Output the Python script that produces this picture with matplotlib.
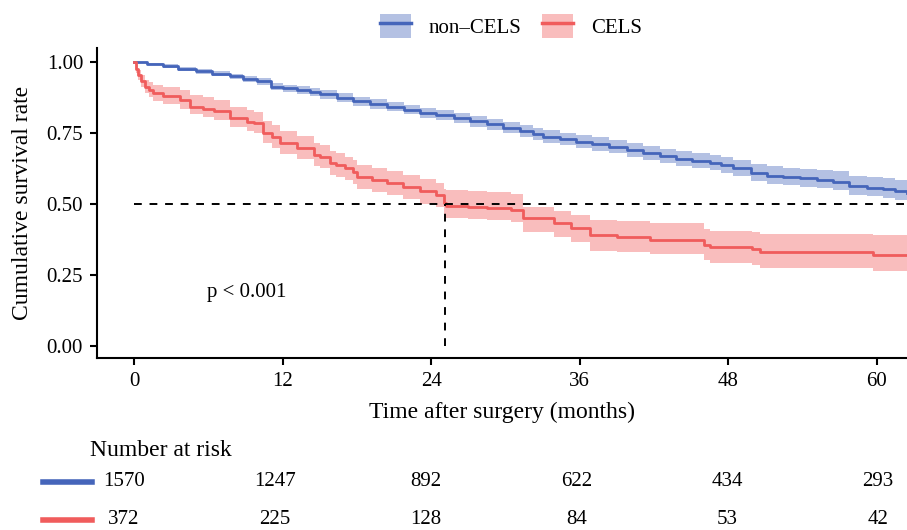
import matplotlib
matplotlib.use("Agg")
import matplotlib.pyplot as plt
from matplotlib.lines import Line2D
from matplotlib.patches import Patch
from matplotlib.legend_handler import HandlerTuple
from matplotlib.transforms import blended_transform_factory

plt.rcParams['font.family'] = ['Liberation Serif', 'DejaVu Serif']

# ---------------- data ----------------
groups = ["non\u2013CELS", "CELS"]

blue_t = [0, 1.0, 2.3, 3.5, 5.0, 6.3, 7.7, 8.8, 9.9, 11.0, 12.0, 13.1, 14.2, 15.0, 16.4,
          17.7, 19.0, 20.4, 21.8, 23.1, 24.4, 25.8, 27.1, 28.5, 29.8, 31.2, 32.2, 33.0,
          34.4, 35.7, 37.0, 38.4, 39.8, 41.1, 42.5, 43.8, 45.1, 46.5, 47.4, 48.4, 49.8,
          51.1, 52.4, 53.8, 55.2, 56.5, 57.8, 59.2, 60.5, 61.5, 62.45]
blue_s = [1.000, 0.992, 0.985, 0.976, 0.967, 0.958, 0.949, 0.941, 0.932, 0.913, 0.907,
          0.901, 0.895, 0.886, 0.874, 0.861, 0.852, 0.843, 0.832, 0.820, 0.812, 0.803,
          0.791, 0.780, 0.769, 0.757, 0.746, 0.737, 0.728, 0.719, 0.711, 0.702, 0.690,
          0.678, 0.669, 0.660, 0.653, 0.646, 0.636, 0.626, 0.610, 0.600, 0.595, 0.590,
          0.585, 0.579, 0.563, 0.558, 0.552, 0.546, 0.540]
blue_lo = [1.000, 0.988, 0.979, 0.969, 0.959, 0.949, 0.939, 0.930, 0.920, 0.900, 0.894,
           0.887, 0.881, 0.871, 0.859, 0.845, 0.836, 0.826, 0.815, 0.802, 0.794, 0.784,
           0.772, 0.760, 0.749, 0.736, 0.725, 0.716, 0.706, 0.697, 0.688, 0.679, 0.666,
           0.654, 0.644, 0.635, 0.627, 0.620, 0.609, 0.599, 0.582, 0.572, 0.566, 0.561,
           0.555, 0.549, 0.532, 0.527, 0.521, 0.515, 0.509]
blue_hi = [1.000, 0.996, 0.991, 0.983, 0.975, 0.967, 0.959, 0.952, 0.944, 0.926, 0.920,
           0.915, 0.909, 0.901, 0.889, 0.877, 0.868, 0.860, 0.849, 0.838, 0.830, 0.822,
           0.811, 0.800, 0.790, 0.778, 0.768, 0.759, 0.751, 0.742, 0.735, 0.726, 0.715,
           0.704, 0.695, 0.687, 0.681, 0.674, 0.665, 0.656, 0.641, 0.632, 0.628, 0.624,
           0.620, 0.615, 0.600, 0.596, 0.591, 0.586, 0.580]

red_t = [0, 0.15, 0.3, 0.55, 0.85, 1.2, 1.5, 2.3, 3.7, 4.5, 5.5, 6.4, 7.7, 9.1, 9.7, 10.4,
         11.1, 11.8, 13.1, 14.5, 15.0, 15.8, 16.3, 17.0, 17.7, 18.0, 19.2, 20.4, 21.7,
         23.1, 24.4, 25.0, 25.2, 27.0, 28.5, 30.4, 31.4, 33.9, 35.3, 36.8, 39.0, 41.7,
         46.0, 46.5, 49.9, 50.6, 59.7, 62.45]
red_s = [1.000, 0.975, 0.954, 0.932, 0.913, 0.900, 0.890, 0.879, 0.866, 0.843, 0.835,
         0.826, 0.802, 0.790, 0.784, 0.750, 0.735, 0.715, 0.697, 0.673, 0.667, 0.644,
         0.637, 0.625, 0.614, 0.594, 0.585, 0.573, 0.559, 0.544, 0.532, 0.503, 0.493,
         0.489, 0.485, 0.479, 0.449, 0.432, 0.414, 0.391, 0.383, 0.373, 0.356, 0.348,
         0.341, 0.330, 0.320, 0.320]
red_lo = [1.000, 0.960, 0.936, 0.911, 0.890, 0.875, 0.864, 0.851, 0.836, 0.815, 0.806,
          0.796, 0.770, 0.756, 0.749, 0.713, 0.697, 0.676, 0.657, 0.632, 0.626, 0.603,
          0.596, 0.584, 0.572, 0.552, 0.543, 0.531, 0.516, 0.501, 0.489, 0.460, 0.450,
          0.447, 0.443, 0.438, 0.400, 0.385, 0.365, 0.335, 0.330, 0.325, 0.302, 0.292,
          0.287, 0.275, 0.265, 0.265]
red_hi = [1.000, 0.988, 0.972, 0.954, 0.938, 0.928, 0.920, 0.912, 0.902, 0.882, 0.875,
          0.866, 0.843, 0.831, 0.825, 0.792, 0.777, 0.756, 0.738, 0.713, 0.707, 0.685,
          0.678, 0.666, 0.655, 0.636, 0.627, 0.615, 0.601, 0.587, 0.575, 0.552, 0.548,
          0.545, 0.541, 0.536, 0.490, 0.474, 0.460, 0.444, 0.440, 0.432, 0.412, 0.404,
          0.400, 0.395, 0.391, 0.391]

median_red = 25.1
p_text = "p < 0.001"

risk_times = [0, 12, 24, 36, 48, 60]
risk_blue = [1570, 1247, 892, 622, 434, 293]
risk_red = [372, 225, 128, 84, 53, 42]

x_ticks = [0, 12, 24, 36, 48, 60]
y_ticks = [0.00, 0.25, 0.50, 0.75, 1.00]

# ---------------- style ----------------
blue = "#4565BA"
red = "#F05C5C"
W, H = 907, 530
fig = plt.figure(figsize=(W / 100, H / 100), dpi=100)
ax = fig.add_axes([97 / W, 1 - 358 / H, (907 - 97) / W, (358 - 48) / H])

for t, s, lo, hi, c in [(blue_t, blue_s, blue_lo, blue_hi, blue),
                        (red_t, red_s, red_lo, red_hi, red)]:
    ax.fill_between(t, lo, hi, step='post', color=c, alpha=0.4, linewidth=0)
    ax.step(t, s, where='post', color=c, linewidth=2.0)

xmax = 62.45
ax.plot([0, xmax], [0.5, 0.5], color='black', linestyle=(0, (4, 4)), linewidth=1.4)
ax.plot([median_red, median_red], [0, 0.5], color='black', linestyle=(0, (4, 4)), linewidth=1.4)

ax.text(9.1, 0.187, p_text, ha='center', va='center', fontsize=15)

ax.set_xlim(-3.03, xmax)
ax.set_ylim(-0.042, 1.049)
ax.set_xticks(x_ticks)
ax.set_xticklabels([str(v) for v in x_ticks])
ax.set_yticks(y_ticks)
ax.set_yticklabels([f"{v:.2f}" for v in y_ticks])
ax.tick_params(labelsize=15, width=1.5, length=5, direction='out', colors='black', pad=5)
for sp in ['top', 'right']:
    ax.spines[sp].set_visible(False)
for sp in ['left', 'bottom']:
    ax.spines[sp].set_linewidth(1.5)
ax.set_xlabel("Time after surgery (months)", fontsize=17, labelpad=8)
ax.set_ylabel("Cumulative survival rate", fontsize=17, labelpad=10)

# legend
handles = [(Patch(facecolor=blue, alpha=0.4, edgecolor='none'), Line2D([], [], color=blue, lw=2.5)),
           (Patch(facecolor=red, alpha=0.4, edgecolor='none'), Line2D([], [], color=red, lw=2.5))]
fig.legend(handles, groups, loc='center', bbox_to_anchor=(511 / W, 1 - 26 / H), ncol=2,
           frameon=False, fontsize=15, handlelength=1.45, handleheight=1.45,
           handletextpad=0.87, columnspacing=1.0,
           handler_map={tuple: HandlerTuple(ndivide=1, pad=0)})

# risk table (own x-scale, as in the reference)
ax_tab = fig.add_axes([97 / W, 0, (907 - 97) / W, 100 / H])
ax_tab.set_xlim(-2.148, 62.29)
ax_tab.axis('off')
fig.text(90 / W, 1 - 450 / H, "Number at risk", ha='left', va='center', fontsize=17)
tr = blended_transform_factory(ax_tab.transData, fig.transFigure)
for row_y, vals, c in [(482, risk_blue, blue), (520, risk_red, red)]:
    yy = 1 - row_y / H
    fig.add_artist(Line2D([43 / W, 92 / W], [yy, yy], color=c, lw=4, transform=fig.transFigure))
    for t, v in zip(risk_times, vals):
        ax_tab.text(t, yy, str(v), transform=tr, ha='center', va='center', fontsize=15)

fig.savefig("out.png", dpi=100)
